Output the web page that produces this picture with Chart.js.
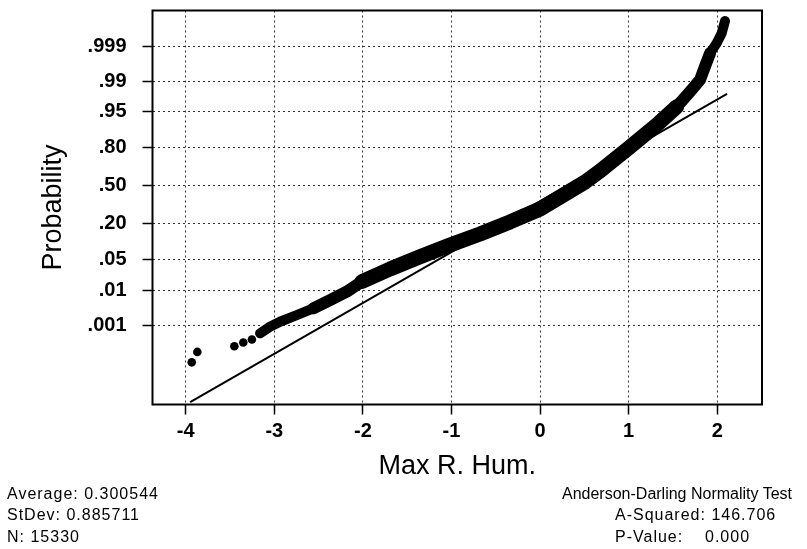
<!DOCTYPE html>
<html>
<head>
<meta charset="utf-8">
<script src="https://cdn.jsdelivr.net/npm/chart.js@4.4.1/dist/chart.umd.min.js"></script>
<style>
  html, body { margin: 0; padding: 0; background: #fff; }
  #wrap { position: relative; width: 807px; height: 549px; overflow: hidden; }
  #c { position: absolute; left: 0; top: 0; }
  .stat { position: absolute; font-family: "Liberation Sans", Arial, sans-serif; font-size: 16px;
          line-height: 16px; color: #000; white-space: pre; letter-spacing: 1px; }
  #sTest { letter-spacing: 0; }
</style>
</head>
<body>
<div id="wrap">
  <canvas id="c" width="807" height="549"></canvas>
  <div class="stat" id="sAvg" style="left:7px; top:486px"></div>
  <div class="stat" id="sSd" style="left:7px; top:507px"></div>
  <div class="stat" id="sN" style="left:7px; top:529px"></div>
  <div class="stat" id="sTest" style="left:562px; top:486px"></div>
  <div class="stat" id="sA2" style="left:615px; top:507px"></div>
  <div class="stat" id="sP" style="left:615px; top:529px"></div>
  <div class="stat" id="sPv" style="left:705px; top:529px"></div>
</div>
<script>
// Summary statistics of Max R. Hum.
const average = 0.300544;
const stDev = 0.885711;
const sampleSize = 15330;
const aSquared = 146.706;
const pValue = 0.000;

// Probability axis ticks
const probTicks = [0.001, 0.01, 0.05, 0.20, 0.50, 0.80, 0.95, 0.99, 0.999];
const probTickLabels = ['.001', '.01', '.05', '.20', '.50', '.80', '.95', '.99', '.999'];
// Data axis ticks
const xTicks = [-4, -3, -2, -1, 0, 1, 2];

// Isolated low observations: value and normal score
const tailX     = [-3.932, -3.869, -3.451, -3.350, -3.253];
const tailScore = [-3.917, -3.686, -3.559, -3.477, -3.411];

// Dense run of ordered observations: value and normal score
const bandX = [-3.161, -3.049, -2.936, -2.747, -2.560, -2.371, -2.183, -2.010, -1.694, -1.356,
               -1.017, -0.678, -0.340, 0.000, 0.339, 0.508, 0.677, 0.993, 1.316, 1.542, 1.692,
               1.805, 1.861, 1.918, 1.993, 2.050, 2.087];
const bandScore = [-3.273, -3.127, -3.016, -2.867, -2.718, -2.534, -2.350, -2.123, -1.846, -1.573,
                   -1.313, -1.069, -0.802, -0.514, -0.114, 0.086, 0.329, 0.829, 1.351, 1.757, 2.090,
                   2.350, 2.645, 2.942, 3.164, 3.386, 3.659];

// Range of the fitted normal line
const fitRange = [-3.95, 2.11];

// Inverse standard normal CDF (Acklam)
function invNorm(p) {
  const a = [-3.969683028665376e+01, 2.209460984245205e+02, -2.759285104469687e+02, 1.383577518672690e+02, -3.066479806614716e+01, 2.506628277459239e+00];
  const b = [-5.447609879822406e+01, 1.615858368580409e+02, -1.556989798598866e+02, 6.680131188771972e+01, -1.328068155288572e+01];
  const c = [-7.784894002430293e-03, -3.223964580411365e-01, -2.400758277161838e+00, -2.549732539343734e+00, 4.374664141464968e+00, 2.938163982698783e+00];
  const d = [7.784695709041462e-03, 3.224671290700398e-01, 2.445134137142996e+00, 3.754408661907416e+00];
  const pl = 0.02425, ph = 1 - pl;
  let q, r;
  if (p < pl) {
    q = Math.sqrt(-2 * Math.log(p));
    return (((((c[0]*q+c[1])*q+c[2])*q+c[3])*q+c[4])*q+c[5]) / ((((d[0]*q+d[1])*q+d[2])*q+d[3])*q+1);
  }
  if (p > ph) {
    q = Math.sqrt(-2 * Math.log(1 - p));
    return -(((((c[0]*q+c[1])*q+c[2])*q+c[3])*q+c[4])*q+c[5]) / ((((d[0]*q+d[1])*q+d[2])*q+d[3])*q+1);
  }
  q = p - 0.5; r = q * q;
  return (((((a[0]*r+a[1])*r+a[2])*r+a[3])*r+a[4])*r+a[5])*q / (((((b[0]*r+b[1])*r+b[2])*r+b[3])*r+b[4])*r+1);
}

const bandPoints = bandX.map((x, i) => ({ x, y: bandScore[i] }));
const tailPoints = tailX.map((x, i) => ({ x, y: tailScore[i] }));
const fitPoints = fitRange.map(x => ({ x, y: (x - average) / stDev }));

// Band thickness: heavier where observations pile up
function bandWidth(x) {
  if (x < -2.65 || x > 1.9) return 10;
  if (x < -1.9 || x > 1.6) return 12;
  return 15;
}

// Frame around the plotting area
const frame = {
  id: 'frame',
  afterDraw(chart) {
    const { ctx, chartArea: a } = chart;
    ctx.save();
    ctx.strokeStyle = '#000';
    ctx.lineWidth = 2;
    ctx.strokeRect(a.left, a.top, a.right - a.left, a.bottom - a.top);
    ctx.restore();
  }
};

const tickFont = { family: '"Liberation Sans", Arial, sans-serif', size: 20, weight: 'bold' };
const titleFont = { family: '"Liberation Sans", Arial, sans-serif', size: 27 };
const gridOpts = {
  color: '#333', lineWidth: 1,
  drawTicks: true, tickLength: 10, tickColor: '#000', tickWidth: 1.5, tickBorderDash: []
};
const borderOpts = { display: false, dash: [2, 3] };

new Chart(document.getElementById('c'), {
  type: 'scatter',
  data: {
    datasets: [
      {
        data: bandPoints, showLine: true, borderColor: '#000', backgroundColor: '#000',
        borderWidth: 15, borderCapStyle: 'round', borderJoinStyle: 'round',
        pointRadius: 0, tension: 0,
        segment: { borderWidth: ctx => bandWidth((ctx.p0.parsed.x + ctx.p1.parsed.x) / 2) }
      },
      {
        data: tailPoints, showLine: false, pointRadius: 4.3, pointBorderWidth: 0,
        pointBackgroundColor: '#000', pointBorderColor: '#000'
      },
      {
        data: fitPoints, showLine: true, borderColor: '#000', borderWidth: 2,
        pointRadius: 0, tension: 0
      }
    ]
  },
  options: {
    responsive: false,
    animation: false,
    events: [],
    layout: { padding: { top: 10.5, right: 45, bottom: 0, left: 0 } },
    plugins: { legend: { display: false }, tooltip: { enabled: false } },
    scales: {
      x: {
        type: 'linear', min: -4.375, max: 2.505,
        afterBuildTicks: s => { s.ticks = xTicks.map(v => ({ value: v })); },
        afterFit: s => { s.height = 144.5; s.paddingLeft = 0; s.paddingRight = 0; },
        grid: gridOpts,
        border: borderOpts,
        ticks: { font: tickFont, color: '#000', padding: 5, maxRotation: 0,
                 callback: v => String(v) },
        title: { display: true, text: 'Max R. Hum.', font: titleFont, color: '#000',
                 padding: { top: 0, bottom: 66 } }
      },
      y: {
        type: 'linear', min: -4.853, max: 3.892,
        afterBuildTicks: s => { s.ticks = probTicks.map(p => ({ value: invNorm(p) })); },
        afterFit: s => { s.width = 152.5; s.paddingTop = 0; s.paddingBottom = 0; },
        grid: gridOpts,
        border: borderOpts,
        ticks: { font: tickFont, color: '#000', padding: 16,
                 callback: (v, i) => probTickLabels[i] },
        title: { display: true, text: 'Probability', font: titleFont, color: '#000',
                 padding: { top: 37, bottom: 0 } }
      }
    }
  },
  plugins: [frame]
});

// Footer statistics
document.getElementById('sAvg').textContent = 'Average: ' + average.toFixed(6);
document.getElementById('sSd').textContent = 'StDev: ' + stDev.toFixed(6);
document.getElementById('sN').textContent = 'N: ' + sampleSize;
document.getElementById('sTest').textContent = 'Anderson-Darling Normality Test';
document.getElementById('sA2').textContent = 'A-Squared: ' + aSquared.toFixed(3);
document.getElementById('sP').textContent = 'P-Value:';
document.getElementById('sPv').textContent = pValue.toFixed(3);
</script>
</body>
</html>
